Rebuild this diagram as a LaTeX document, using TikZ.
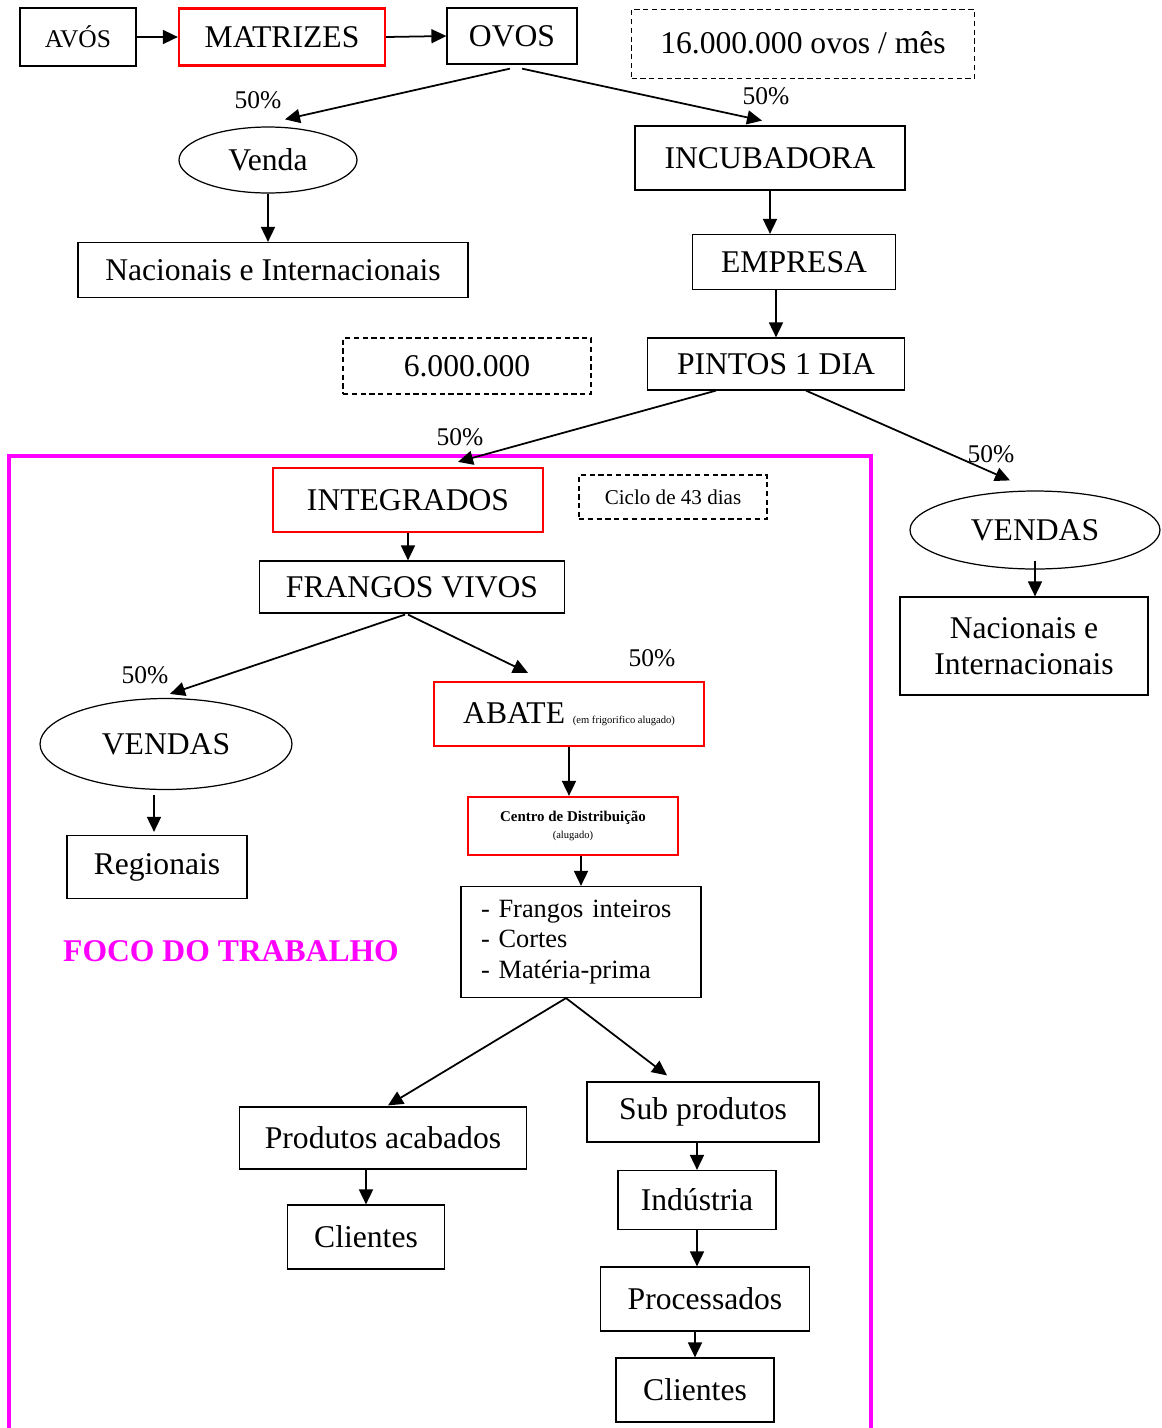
\documentclass[tikz,border=0pt]{standalone}
\usepackage{fontspec}
\setmainfont{Liberation Serif}
\usetikzlibrary{shapes.geometric,arrows.meta,calc}
\definecolor{focomagenta}{RGB}{255,0,255}

\begin{document}
\begin{tikzpicture}%
	[
	x=0.02cm,
	y=-0.02cm,
	box/.style={draw=black, line width=0.7pt, inner sep=0pt, font=\fontsize{18}{20.5}\selectfont},
	redbox/.style={box, draw=red, line width=1.3pt},
	thickbox/.style={box, line width=1.6pt},
	dashbox/.style={box, dash pattern=on 3pt off 2pt},
	oval/.style={box, ellipse},
	link/.style={-{Triangle[length=0.3cm,width=0.28cm]}, line width=1pt},
	pct/.style={inner sep=0pt, font=\fontsize{14.5}{16}\selectfont},
	focus/.style={draw=focomagenta, line width=2.8pt}]

\useasboundingbox (0,0) rectangle (1161,1428);

\node[box, minimum width=2.32cm, minimum height=1.16cm, font=\fontsize{14.5}{17}\selectfont] (avos) at (78,37) {AVÓS};
\node[redbox, minimum width=4.12cm, minimum height=1.14cm] (matrizes) at (282,37) {MATRIZES};
\node[box, minimum width=2.6cm, minimum height=1.12cm] (ovos) at (512,36) {OVOS};
\node[dashbox, minimum width=6.86cm, minimum height=1.38cm] (ovosmes) at (803,44) {\raisebox{2pt}{16.000.000 ovos / mês}};

\node[oval, minimum width=3.56cm, minimum height=1.32cm] (venda) at (268,160) {Venda};
\node[box, minimum width=7.8cm, minimum height=1.1cm] (nacA) at (273,270) {Nacionais e Internacionais};
\node[thickbox, minimum width=5.4cm, minimum height=1.28cm] (incubadora) at (770,158) {INCUBADORA};
\node[box, minimum width=4.06cm, minimum height=1.1cm] (empresa) at (794,262) {EMPRESA};
\node[box, minimum width=5.14cm, minimum height=1.04cm] (pintos) at (776,364) {PINTOS 1 DIA};
\node[dashbox, minimum width=4.96cm, minimum height=1.12cm] (pintosqtd) at (467,366) {6.000.000};

\node[pct] (pctA) at (258,100) {50\%};
\node[pct] (pctB) at (766,96) {50\%};
\node[pct] (pctC) at (460,437) {50\%};
\node[pct] (pctD) at (991,454) {50\%};
\node[pct] (pctE) at (145,675) {50\%};
\node[pct] (pctF) at (652,658) {50\%};

\draw[focus] (9,456) rectangle (871,1450);
\node[inner sep=0pt, text=focomagenta, font=\fontsize{18}{20}\selectfont\bfseries] (foco) at (231,951) {FOCO DO TRABALHO};

\node[redbox, minimum width=5.4cm, minimum height=1.28cm] (integrados) at (408,500) {INTEGRADOS};
\node[dashbox, minimum width=3.76cm, minimum height=0.88cm, font=\fontsize{12}{14}\selectfont] (ciclo) at (673,497) {Ciclo de 43 dias};
\node[box, minimum width=6.1cm, minimum height=1.04cm] (frangos) at (412,587) {FRANGOS VIVOS};
\node[oval, minimum width=5.04cm, minimum height=1.82cm] (vendasA) at (166,744) {VENDAS};
\node[box, minimum width=3.6cm, minimum height=1.26cm] (regionais) at (157,867) {Regionais};
\node[redbox, minimum width=5.4cm, minimum height=1.28cm] (abate) at (569,714) {ABATE {\fontsize{6}{7}\selectfont (em frigorifico alugado)}};
\node[redbox, minimum width=4.2cm, minimum height=1.16cm, align=center, font=\fontsize{8.5}{9.6}\selectfont] (centro) at (573,826) {\bfseries Centro de Distribuição\\{\fontsize{6}{7}\selectfont (alugado)}};
\node[box, minimum width=4.8cm, minimum height=2.22cm, text width=4.0cm, align=left, font=\fontsize{15}{17.3}\selectfont] (tipos) at (581,942) {- Frangos inteiros\\- Cortes\\- Matéria-prima};

\node[box, minimum width=5.74cm, minimum height=1.24cm] (acabados) at (383,1138) {Produtos acabados};
\node[box, minimum width=3.14cm, minimum height=1.28cm] (clientesA) at (366,1237) {Clientes};
\node[box, minimum width=4.64cm, minimum height=1.2cm] (subprod) at (703,1112) {Sub produtos};
\node[box, minimum width=3.16cm, minimum height=1.18cm] (industria) at (697,1200) {Indústria};
\node[box, minimum width=4.18cm, minimum height=1.28cm] (processados) at (705,1299) {Processados};
\node[box, minimum width=3.16cm, minimum height=1.28cm] (clientesB) at (695,1390) {Clientes};

\node[oval, minimum width=5.0cm, minimum height=1.56cm] (vendasB) at (1035,530) {VENDAS};
\node[box, minimum width=4.96cm, minimum height=1.96cm, align=center] (nacB) at (1024,646) {Nacionais e\\Internacionais};

\draw[link] (avos.east) -- (matrizes.west);
\draw[link] (matrizes.east) -- (ovos.west);
\draw[link] ($(ovos.south)+(-2,4)$) -- ($(venda.north)+(17,-7)$);
\draw[link] ($(ovos.south)+(10,4)$) -- ($(incubadora.north)+(-8,-4)$);
\draw[link] (venda.south) -- (venda.south |- nacA.north);
\draw[link] (incubadora.south) -- (incubadora.south |- empresa.north);
\draw[link] (pintos.north |- empresa.south) -- (pintos.north);
\draw[link] ($(pintos.south)+(-60,0)$) -- ($(integrados.north)+(50,-5)$);
\draw[link] ($(pintos.south)+(30,0)$) -- ($(vendasB.north)+(-25,-10)$);
\draw[link] ($(vendasB.south)+(0,-9)$) -- (vendasB.south |- nacB.north);

\draw[link] (integrados.south) -- (integrados.south |- frangos.north);
\draw[link] ($(frangos.south)+(-7,1)$) -- ($(vendasA.north)+(4,-4)$);
\draw[link] ($(frangos.south)+(-4,1)$) -- ($(abate.north)+(-41,-8)$);
\draw[link] ($(vendasA.south)+(-12,5)$) -- ($(regionais.north)+(-3,-3)$);
\draw[link] (abate.south) -- (abate.south |- centro.north);
\draw[link] (tipos.north |- centro.south) -- (tipos.north);
\draw[link] ($(tipos.south)+(-15,0)$) -- ($(acabados.north)+(5,-1)$);
\draw[link] ($(tipos.south)+(-15,0)$) -- ($(subprod.north)+(-36,-6)$);
\draw[link] (clientesA.north |- acabados.south) -- (clientesA.north);
\draw[link] (industria.north |- subprod.south) -- (industria.north);
\draw[link] (industria.south) -- (industria.south |- processados.north);
\draw[link] (clientesB.north |- processados.south) -- (clientesB.north);
\end{tikzpicture}
\end{document}
